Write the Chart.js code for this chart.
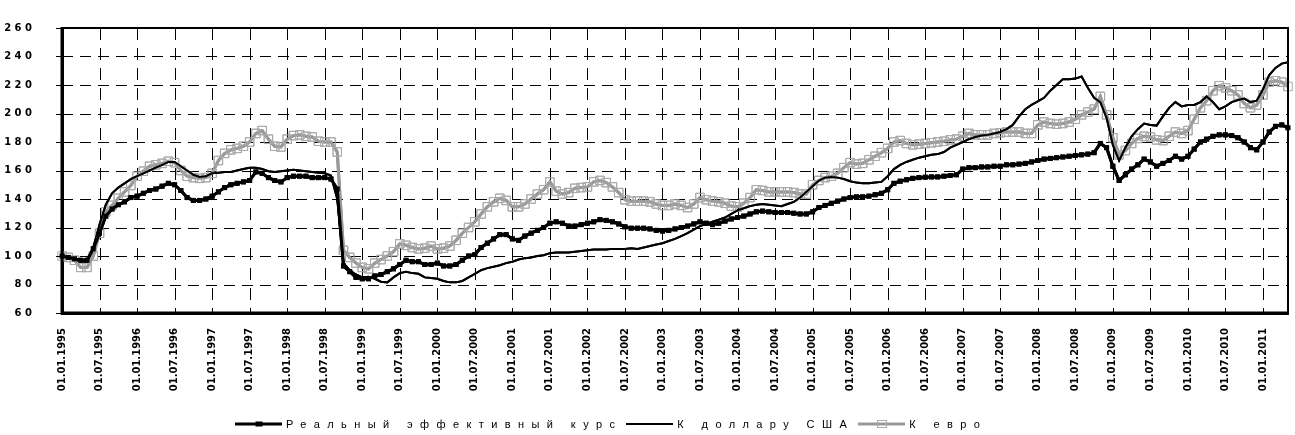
<!DOCTYPE html>
<html>
<head>
<meta charset="utf-8">
<script src="https://cdn.jsdelivr.net/npm/chart.js@4.4.1/dist/chart.umd.min.js"></script>
<style>
  html, body { margin: 0; padding: 0; background: #fff; }
  #wrap { position: relative; width: 1295px; height: 435px; }
  #legend { position: absolute; left: 235px; top: 417px; height: 14px; display: flex; align-items: center; white-space: nowrap;
            font: 11px "Liberation Sans", Arial, sans-serif; letter-spacing: 7.4px; color: #000; }
  #legend .item { display: flex; align-items: center; margin-right: 4px; }
  .key { position: relative; width: 47px; height: 14px; margin-right: 4px; }
  .key .ln { position: absolute; left: 0; right: 0; top: 50%; transform: translateY(-50%); }
  .key .mk { position: absolute; left: 50%; top: 50%; transform: translate(-50%, -50%); box-sizing: border-box; }
</style>
</head>
<body>
<div id="wrap">
  <canvas id="chart" width="1295" height="435"></canvas>
  <div id="legend">
    <span class="item"><span class="key"><span class="ln" style="height:3px;background:#000"></span><span class="mk" style="width:7px;height:5px;background:#000"></span></span>Реальный эффективный курс</span>
    <span class="item"><span class="key"><span class="ln" style="height:2px;background:#000"></span></span>К доллару США</span>
    <span class="item"><span class="key"><span class="ln" style="height:3px;background:#999"></span><span class="mk" style="width:10px;height:8px;border:1px solid #aaa"></span></span>К евро</span>
  </div>
</div>
<script>
// monthly points, 01.01.1995 .. 01.05.2011
const months = []
for (let y = 1995; y <= 2011; y++) {
  for (let m = 1; m <= 12; m++) {
    if (y === 2011 && m > 5) break
    months.push('01.' + String(m).padStart(2, '0') + '.' + y)
  }
}

const yTicks = [60, 80, 100, 120, 140, 160, 180, 200, 220, 240, 260]

const reer = [
  100, 99, 98, 97, 97, 105, 116, 128, 133, 136, 138, 141,
  142, 144, 146, 147, 149, 151, 150, 146, 141, 139, 139, 140,
  142, 145, 148, 150, 151, 152, 153, 159, 158, 155, 153, 152,
  155, 156, 156, 156, 155, 155, 155, 154, 147, 93, 89, 85,
  84, 84, 86, 87, 89, 91, 94, 97, 96, 96, 94, 94,
  95, 93, 93, 94, 97, 100, 101, 106, 109, 112, 115, 115,
  112, 111, 114, 116, 118, 120, 123, 124, 123, 121, 121, 122,
  123, 124, 125.5, 125, 124, 122.5, 120.5, 119.5, 119.5, 119.5, 119, 118,
  117.5, 118, 119, 120, 121, 122.5, 124, 123, 122, 123, 124.5, 126,
  127, 128, 129.5, 131, 131.5, 131, 130.5, 130.5, 130.5, 130, 129.5, 129.5,
  131, 134, 135.5, 137, 138.5, 140, 141, 141.5, 141.5, 142, 143, 144,
  146.5, 151, 152.5, 153.5, 154.5, 155, 155.3, 155.5, 155.5, 156, 156.5, 157,
  161, 162, 162, 162.5, 162.5, 163, 163, 164, 164, 164.5, 165, 166,
  167, 168, 168.5, 169, 169.5, 170, 170.5, 171, 171.5, 172.5, 179, 176,
  163, 153, 157, 161, 164, 168, 166, 163, 165, 167, 170, 168,
  170, 175, 180, 182, 184, 185, 185, 184.5, 183, 180, 176, 174.5,
  180, 187, 191, 192, 190
]

const usd = [
  100, 99, 98, 96, 96, 106, 122, 136, 144, 148, 151, 154,
  156, 158, 160, 162, 164, 166, 166, 163, 160, 157, 155.5, 156,
  158, 158.5, 159, 159, 160, 161, 162, 162, 161, 159.5, 159, 159.5,
  160, 160.5, 160, 159.5, 159, 158.5, 158, 156.5, 140, 95, 90, 87,
  85, 85.5, 84, 82, 81.5, 85, 88, 89, 88, 87.5, 85, 84.5,
  84, 82.5, 81.5, 81.5, 82.5, 85, 87.5, 90, 91.5, 92.5, 93.5, 95,
  96, 97.5, 98.5, 99, 100, 100.5, 102, 102.5, 102.5, 102.5, 103, 103.5,
  104, 104.5, 104.5, 104.5, 105, 105, 105, 105.5, 105, 106, 107, 108,
  109, 110.5, 112, 114, 116, 118.5, 121, 122.5, 124, 125.5, 127, 129.5,
  132, 133.5, 135, 136, 136.5, 136, 135.5, 135, 136.5, 138, 141, 145,
  149, 153, 155, 155.5, 155, 154, 152.5, 151.5, 151, 151, 151.5, 152,
  156, 161, 164, 166, 167.5, 169, 170, 171, 171.5, 173, 176, 178,
  180, 182, 183.5, 184.5, 185, 186, 187, 189, 192, 198, 203, 206,
  208.5, 211, 216, 220, 224, 224, 224.5, 226, 218, 211, 208, 197,
  178, 167, 176, 184, 189, 193, 192, 191.5, 198, 204, 208, 205,
  206, 206, 208, 212, 208, 203, 205, 208, 209.5, 210.5, 208, 209,
  217, 227, 232, 235, 236
]

const eur = [
  100, 99, 97, 92, 92, 100, 116, 131, 135.5, 140.5, 145, 149.5,
  156, 159.5, 163, 164, 165, 166.5, 165.5, 160, 156, 155, 154.5, 155,
  158, 167, 172, 174.5, 175.5, 177, 180, 186, 188, 182, 177, 176.5,
  182, 184.5, 185, 184, 183.5, 180.5, 180, 180, 173, 104, 99, 95,
  92, 91, 95, 97.5, 100, 103, 108.5, 107.5, 106, 105, 105.5, 107,
  105, 105.5, 107, 111, 116, 120, 124, 129.5, 134.5, 138, 140.5, 139,
  134.5, 134.5, 136.5, 140, 143.5, 146.5, 152, 145.5, 143.5, 144.5, 147.5, 148,
  148.5, 152, 153, 151.5, 148.5, 144.5, 139.5, 138.5, 138.5, 138.5, 138, 136.5,
  135.5, 135.5, 136.5, 135.5, 134, 136.5, 141, 139.5, 138.5, 138, 137, 135,
  134.5, 137, 141, 146.5, 146, 145, 145, 145, 145, 144.5, 143.5, 143.5,
  150, 153, 155, 156, 158, 162, 165.5, 164.5, 165, 167.5, 170, 172.5,
  175.5, 180, 181, 179, 178, 178.5, 179, 179.5, 180, 180.5, 181.5, 182,
  184, 186, 185, 185, 185, 186, 186.5, 187, 187, 187, 186, 186,
  192, 194, 193, 192.5, 193, 194, 196, 199, 201, 203, 212, 199,
  183, 171, 174, 179, 182.5, 184, 183.5, 181.5, 181, 184, 187, 186,
  188, 196, 204, 209, 216, 219.5, 218, 216, 213, 207, 204, 206,
  213, 222, 223, 222, 219
]

const spaced = s => String(s).split('').join(' ')

// dashed grid, y tick marks and frame, placed with the chart's scales;
// the series are then drawn again by their own controllers so they sit above the grid
const gridFrame = {
  id: 'gridFrame',
  afterDraw(c) {
    const { ctx, chartArea: a, scales: { x, y } } = c
    ctx.save()
    ctx.strokeStyle = '#000'
    ctx.lineWidth = 1
    ctx.setLineDash([11, 7])
    yTicks.forEach(v => {
      const py = Math.round(y.getPixelForValue(v)) + 0.5
      ctx.beginPath(); ctx.moveTo(a.left, py); ctx.lineTo(a.right, py); ctx.stroke()
    })
    ctx.setLineDash([12, 8])
    for (let i = 6; i < months.length; i += 6) {
      const px = Math.round(x.getPixelForValue(i)) + 0.5
      ctx.beginPath(); ctx.moveTo(px, a.top); ctx.lineTo(px, a.bottom); ctx.stroke()
    }
    ctx.setLineDash([])
    yTicks.forEach(v => {
      const py = Math.round(y.getPixelForValue(v)) + 0.5
      ctx.beginPath(); ctx.moveTo(a.left - 6, py); ctx.lineTo(a.left, py); ctx.stroke()
    })
    ctx.restore()

    ctx.save()
    ctx.beginPath()
    ctx.rect(a.left, a.top - 6, a.right - a.left, a.bottom - a.top + 6)
    ctx.clip()
    for (let i = c.data.datasets.length - 1; i >= 0; i--) c.getDatasetMeta(i).controller.draw()
    ctx.restore()

    ctx.save()
    ctx.strokeStyle = '#000'
    ctx.lineWidth = 2
    ctx.beginPath()
    ctx.moveTo(a.left, a.top)
    ctx.lineTo(a.right, a.top)
    ctx.lineTo(a.right, a.bottom)
    ctx.stroke()
    ctx.lineWidth = 3
    ctx.beginPath()
    ctx.moveTo(a.left, a.top - 1)
    ctx.lineTo(a.left, a.bottom)
    ctx.lineTo(a.right, a.bottom)
    ctx.stroke()
    ctx.restore()
  },
}

const tickFont = { family: 'DejaVu Sans', size: 10, weight: 'bold' }

new Chart(document.getElementById('chart'), {
  type: 'line',
  data: {
    labels: months,
    datasets: [
      { label: 'Реальный эффективный курс', data: reer, borderColor: '#000', borderWidth: 3,
        pointStyle: 'rect', pointRadius: 3.5, pointBackgroundColor: '#000', pointBorderWidth: 0 },
      { label: 'К доллару США', data: usd, borderColor: '#000', borderWidth: 2, pointRadius: 0 },
      { label: 'К евро', data: eur, borderColor: '#999', borderWidth: 3,
        pointStyle: 'rect', pointRadius: 6, pointBackgroundColor: 'rgba(0,0,0,0)', pointBorderColor: '#aaa', pointBorderWidth: 1 },
    ],
  },
  options: {
    responsive: false,
    animation: false,
    layout: { padding: { top: 17, right: 2, bottom: 22, left: 0 } },
    plugins: { legend: { display: false }, tooltip: { enabled: false } },
    scales: {
      x: {
        afterFit: s => { s.height = 100 },
        grid: { display: false },
        border: { display: true, color: '#000', width: 3 },
        ticks: {
          autoSkip: false, maxRotation: 90, minRotation: 90, padding: 7,
          color: '#000', font: tickFont,
          callback: (v, i) => i % 6 === 0 ? months[i] : null,
        },
      },
      y: {
        min: yTicks[0], max: yTicks[yTicks.length - 1],
        afterFit: s => { s.width = 62 },
        grid: { display: false },
        border: { display: true, color: '#000', width: 3 },
        ticks: {
          stepSize: yTicks[1] - yTicks[0],
          padding: 22, color: '#000', font: tickFont,
          callback: v => spaced(v),
        },
      },
    },
  },
  plugins: [gridFrame],
})
</script>
</body>
</html>
